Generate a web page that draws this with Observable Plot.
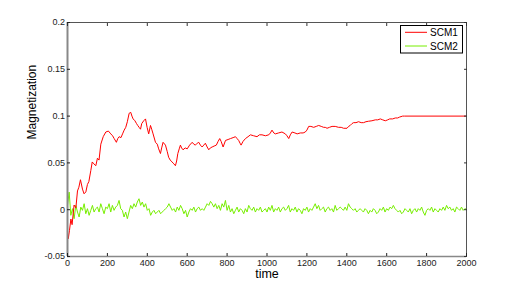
<!DOCTYPE html>
<html>
<head>
<meta charset="utf-8">
<script src="https://cdn.jsdelivr.net/npm/d3@7"></script>
<script src="https://cdn.jsdelivr.net/npm/@observablehq/plot@0.6"></script>
<style>
  html, body { margin: 0; padding: 0; background: #fff; }
  #chart { width: 515px; height: 289px; }
</style>
</head>
<body>
<div id="chart"></div>
<script>
// ---- data ----
const xTicks = [0, 200, 400, 600, 800, 1000, 1200, 1400, 1600, 1800, 2000];
const xTickLabels = ["0", "200", "400", "600", "800", "1000", "1200", "1400", "1600", "1800", "2000"];
const yTicks = [-0.05, 0, 0.05, 0.1, 0.15, 0.2];
const yTickLabels = ["-0.05", "0", "0.05", "0.1", "0.15", "0.2"];
const seriesNames = ["SCM1", "SCM2"];
const seriesColors = ["#ff0000", "#77ee00"];

const scm1Time = [0, 4, 10, 17, 23, 33, 42, 50, 57, 65, 75, 83, 92, 100, 107, 117, 124, 132, 142, 150, 158, 167, 179, 192, 205, 217, 226, 234, 245, 252, 259, 268, 276, 284, 292, 300, 309, 317, 323, 329, 338, 346, 352, 359, 366, 372, 382, 391, 399, 407, 416, 422, 429, 441, 450, 457, 466, 472, 479, 491, 500, 507, 515, 524, 533, 541, 547, 553, 560, 566, 572, 579, 590, 600, 612, 625, 633, 641, 650, 658, 666, 675, 683, 691, 700, 708, 716, 725, 735, 746, 755, 763, 770, 780, 792, 805, 817, 830, 842, 850, 858, 865, 870, 880, 892, 905, 917, 933, 950, 962, 975, 992, 1009, 1017, 1025, 1034, 1042, 1058, 1075, 1092, 1100, 1109, 1117, 1126, 1140, 1151, 1167, 1181, 1192, 1200, 1209, 1220, 1234, 1247, 1259, 1272, 1284, 1292, 1301, 1313, 1326, 1342, 1359, 1372, 1384, 1401, 1409, 1417, 1426, 1434, 1446, 1459, 1472, 1484, 1496, 1509, 1526, 1543, 1555, 1568, 1580, 1593, 1605, 1615, 1630, 1643, 1655, 1665, 1680, 1690, 2000];
const scm1Value = [-0.024, -0.031, -0.022, -0.010, -0.016, 0.005, 0.002, 0.020, 0.024, 0.032, 0.022, 0.017, 0.019, 0.027, 0.030, 0.042, 0.051, 0.049, 0.047, 0.055, 0.053, 0.070, 0.078, 0.083, 0.084, 0.081, 0.079, 0.076, 0.072, 0.076, 0.078, 0.077, 0.081, 0.085, 0.088, 0.094, 0.103, 0.104, 0.100, 0.097, 0.095, 0.092, 0.090, 0.088, 0.086, 0.092, 0.095, 0.097, 0.088, 0.081, 0.090, 0.086, 0.081, 0.072, 0.070, 0.065, 0.060, 0.066, 0.072, 0.069, 0.062, 0.056, 0.053, 0.051, 0.049, 0.047, 0.052, 0.060, 0.065, 0.069, 0.066, 0.064, 0.066, 0.065, 0.069, 0.072, 0.070, 0.069, 0.071, 0.072, 0.069, 0.067, 0.069, 0.071, 0.067, 0.064, 0.066, 0.067, 0.068, 0.069, 0.073, 0.076, 0.073, 0.067, 0.074, 0.075, 0.076, 0.077, 0.078, 0.076, 0.074, 0.071, 0.069, 0.073, 0.076, 0.078, 0.080, 0.079, 0.078, 0.080, 0.080, 0.079, 0.080, 0.082, 0.085, 0.082, 0.081, 0.082, 0.083, 0.081, 0.079, 0.076, 0.080, 0.083, 0.082, 0.081, 0.082, 0.082, 0.083, 0.085, 0.089, 0.089, 0.088, 0.089, 0.090, 0.089, 0.088, 0.088, 0.087, 0.088, 0.089, 0.089, 0.088, 0.088, 0.087, 0.087, 0.089, 0.090, 0.092, 0.093, 0.093, 0.094, 0.093, 0.093, 0.094, 0.0945, 0.095, 0.096, 0.096, 0.097, 0.096, 0.095, 0.096, 0.097, 0.097, 0.098, 0.098, 0.099, 0.100, 0.100, 0.100];

// SCM2 magnetization in units of 1e-3, evenly sampled over 0..2000
const scm2Milli = [
  4.6,18.8,-6,1.1,-9.6, 4.6,-2.5,-7.8,2.8,-0.7, 6.4,-4.3,1.1,-6,-0.7, 4.6,-2.5,1.1,2.8,-2.5,
  6.4,1.1,-4.3,2.8,1.1, 6.4,-2.5,4.6,-0.7,2.8, 4.6,9.9,1.1,-0.7,-7.8, -2.5,-9.6,-2.5,4.6,1.1,
  6.4,2.8,8.2,11.7,4.6, 8.2,2.8,6.4,-0.7,1.1, -6,-2.5,-0.7,-4.3,-2.5, -0.7,-4.3,-2.5,-0.7,1.1,
  2.8,6.4,2.8,-0.7,1.1, -2.5,2.8,-0.7,4.6,1.1, -4.3,-0.7,-7.8,-2.5,1.1, -0.7,2.8,-2.5,1.1,2.8,
  -0.7,1.1,
  -0.7,2.8,6.4,4.6,8.9, 6.4,2.8,6.4,1.1,4.6, -0.7,6.4,2.8,9.9,-0.7, 4.6,-2.5,1.1,-4.3,-0.7,
  2.8,-2.5,1.1,-0.7,-4.3, 1.1,-2.5,4.6,1.1,-0.7, 2.8,-2.5,1.1,-0.7,2.8, -2.5,-0.7,1.1,-2.5,2.8,
  -0.7,4.6,-2.5,1.1,-0.7, 2.8,-2.5,1.1,2.8,-0.7, 1.1,4.6,-2.5,1.1,-0.7, 2.8,-2.5,1.1,-0.7,-4.3,
  1.1,-0.7,2.8,-2.5,1.1, -0.7,2.8,6.4,1.1,4.6, -0.7,1.1,2.8,-2.5,1.1, 2.8,-0.7,1.1,-2.5,4.6,
  -0.7,1.1,2.8,
  1.1,-0.7,2.8,-0.7,6.4, 2.8,1.1,-0.7,1.1,-2.5, -0.7,1.1,-0.7,-2.5,1.1, -0.7,-4.3,-0.7,-2.5,1.1,
  -0.7,-4.3,-2.5,1.1,-0.7, 2.8,-2.5,1.1,-0.7,2.8, 1.1,4.6,1.1,-0.7,-2.5, -0.7,-4.3,-2.5,1.1,-0.7,
  -2.5,1.1,-4.3,-0.7,1.1, -2.5,1.1,-0.7,2.8,-2.5, -6,-0.7,1.1,-0.7,2.8, -2.5,1.1,-0.7,-2.5,1.1,
  -0.7,2.8,-0.7,4.6,1.1, 2.8,-0.7,1.1,-2.5,2.8, 1.1,-0.7,2.8,-0.7,1.1, 0.4
];

// ---- build tables ----
const scm1 = scm1Time.map((t, i) => ({t, v: scm1Value[i]}));
const n2 = scm2Milli.length;
const scm2 = scm2Milli.map((m, i) => ({t: i * 2000 / (n2 - 1), v: m / 1000}));

const font = "'Liberation Sans', Arial, Helvetica, sans-serif";

const chart = Plot.plot({
  width: 515,
  height: 289,
  marginLeft: 67,
  marginRight: 49,
  marginTop: 22,
  marginBottom: 33,
  style: {fontFamily: font, background: "#fff", overflow: "visible"},
  x: {domain: [0, 2000], ticks: xTicks},
  y: {domain: [-0.05, 0.2], ticks: yTicks},
  marks: [
    Plot.line(scm2, {x: "t", y: "v", stroke: seriesColors[1], strokeWidth: 1}),
    Plot.line(scm1, {x: "t", y: "v", stroke: seriesColors[0], strokeWidth: 1}),
    Plot.frame({stroke: "#555", strokeWidth: 1}),
    Plot.ruleX([0], {stroke: "#888", strokeWidth: 2}),
    Plot.ruleY([-0.05], {stroke: "#888", strokeWidth: 1.6}),
    Plot.axisX(xTicks, {anchor: "bottom", tickSize: -3, tickPadding: 6, fontSize: 9, color: "#222", label: null,
      tickFormat: (d) => xTickLabels[xTicks.indexOf(d)]}),
    Plot.axisX(xTicks, {anchor: "top", tickSize: -3, tickFormat: () => "", color: "#333", label: null}),
    Plot.axisY(yTicks, {anchor: "left", tickSize: -3, tickPadding: 5.5, fontSize: 9, color: "#222", label: null,
      tickFormat: (d) => yTickLabels[yTicks.indexOf(d)]}),
    Plot.axisY(yTicks, {anchor: "right", tickSize: -3, tickFormat: () => "", color: "#333", label: null}),
    Plot.text(["Magnetization"], {frameAnchor: "left", dx: -35, rotate: -90, fontSize: 12, fill: "#000"}),
    Plot.text(["time"], {frameAnchor: "bottom", dy: 21, fontSize: 12.5, fill: "#000"})
  ]
});

document.getElementById("chart").appendChild(chart);

// ---- legend ----
const svg = d3.select(chart);
const lg = svg.append("g").attr("font-family", font).attr("font-size", 10).attr("text-anchor", "start");
lg.append("rect").attr("x", 400.5).attr("y", 25.5).attr("width", 62).attr("height", 27.5)
  .attr("fill", "#fff").attr("stroke", "#000").attr("stroke-width", 1);
seriesNames.forEach((name, i) => {
  const y = 32.3 + i * 13.7;
  lg.append("line").attr("x1", 405).attr("x2", 427).attr("y1", y).attr("y2", y)
    .attr("stroke", seriesColors[i]).attr("stroke-width", 1);
  lg.append("text").attr("x", 430).attr("y", y).attr("dy", "0.35em").attr("fill", "#000").text(name);
});
</script>
</body>
</html>
